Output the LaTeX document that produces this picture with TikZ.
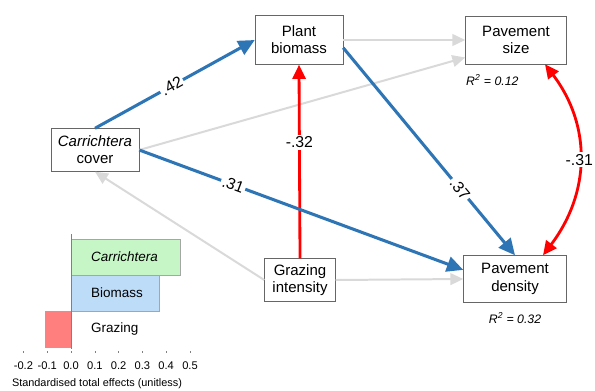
\documentclass[tikz,border=0pt]{standalone}
\usepackage{fontspec}
\setmainfont{Liberation Sans}
\usetikzlibrary{arrows.meta,calc}

\definecolor{semblue}{RGB}{46,117,182}
\definecolor{semgrey}{RGB}{217,217,217}
\definecolor{semred}{RGB}{255,0,0}
\definecolor{bargreen}{RGB}{198,245,198}
\definecolor{barblue}{RGB}{189,220,248}
\definecolor{barred}{RGB}{255,127,127}

\tikzset{
  var/.style={draw=black!60, fill=white, align=center, inner sep=0pt,
    font=\fontsize{12.8}{14.7}\selectfont},
  pathpos/.style={draw=semblue, line width=2.6pt, -{Triangle[length=14pt,width=13pt]}},
  pathneg/.style={draw=semred, line width=2.4pt, -{Triangle[length=12pt,width=11pt]}},
  pathns/.style={draw=semgrey, line width=1.7pt, -{Triangle[length=11pt,width=10pt]}},
  coef/.style={fill=white, inner sep=1.5pt, font=\fontsize{13.5}{15}\selectfont},
  bar/.style={draw=black!35, line width=0.4pt},
}

\begin{document}
\begin{tikzpicture}[x=0.03cm, y=-0.03cm]
    \useasboundingbox (0,0) rectangle (595,390);

    % Variables
    \node[var, minimum width=2.64cm, minimum height=1.47cm] (bio) at (299,40) {Plant\\biomass};
    \node[var, minimum width=3.03cm, minimum height=1.44cm] (size) at (516,40) {Pavement\\size};
    \node[var, minimum width=2.64cm, minimum height=1.29cm] (carr) at (95,150) {\textit{Carrichtera}\\cover};
    \node[var, minimum width=2.13cm, minimum height=1.29cm] (graz) at (300,280) {Grazing\\intensity};
    \node[var, minimum width=3.09cm, minimum height=1.41cm] (dens) at (515,279) {Pavement\\density};

    % Explained variance
    \node[anchor=west, inner sep=0pt, font=\fontsize{10.5}{12}\selectfont\itshape] (r2size) at (466,80) {R\textsuperscript{2} = 0.12};
    \node[inner sep=0pt, font=\fontsize{10.5}{12}\selectfont\itshape] (r2dens) at (515,318) {R\textsuperscript{2} = 0.32};

    % Non-significant paths
    \draw[pathns] (bio.east) -- (size.west);
    \draw[pathns] (carr.east) -- (size.199);
    \draw[pathns] (graz.west) -- (carr.south);
    \draw[pathns] (graz.east) -- (dens.west);

    % Negative paths
    \draw[pathneg] (graz.north) -- node[coef, pos=0.6] {-.32} (bio.south);
    \draw[pathneg, {Triangle[length=12pt,width=11pt]}-{Triangle[length=12pt,width=11pt]}]
        ($(size.south)+(29,0)$) .. controls +(47,62) and +(47,-62) ..
        node[coef, pos=0.5] {-.31} ($(dens.north)+(28,0)$);

    % Positive paths
    \draw[pathpos] (carr.north) -- node[coef, sloped, pos=0.48] {.42} (bio.west);
    \draw[pathpos] (carr.east) -- node[coef, sloped, pos=0.29] {.31} (dens.170);
    \draw[pathpos] (bio.-10) -- node[coef, sloped, pos=0.68] {.37} (dens.north);

    % Total effects bars
    \draw[bar, fill=bargreen] (71,239) rectangle (180,275);
    \draw[bar, fill=barblue] (71,275) rectangle (159,311);
    \draw[bar, fill=barred] (45,311) rectangle (71,347);
    \node[anchor=west, font=\fontsize{11.5}{13}\selectfont\itshape] (lcarr) at (87,257) {Carrichtera};
    \node[anchor=west, font=\fontsize{11.5}{13}\selectfont] (lbio) at (87,293) {Biomass};
    \node[anchor=west, font=\fontsize{11.5}{13}\selectfont] (lgraz) at (87,329) {Grazing};

    % Axis
    \draw[black!50, line width=0.5pt] (71,234) -- (71,349);
    \foreach \t/\lab in {-2/-0.2,-1/-0.1,0/0.0,1/0.1,2/0.2,3/0.3,4/0.4,5/0.5} {
        \draw[black!50, line width=0.5pt] (71+23.8*\t,351) -- (71+23.8*\t,353);
        \node[font=\fontsize{9.5}{11}\selectfont] at (71+23.8*\t,366) {\lab};
    }
    \node[font=\fontsize{9.3}{11}\selectfont] (xlab) at (97,384) {Standardised total effects (unitless)};
\end{tikzpicture}
\end{document}
